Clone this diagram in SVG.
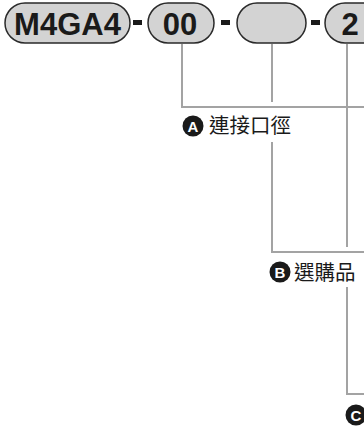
<svg xmlns="http://www.w3.org/2000/svg" width="364" height="428" viewBox="0 0 364 428">
<style>
.pill{fill:#d3d3d3;stroke:#2a2a2a;stroke-width:1.5}
.code{font-family:"Liberation Sans",Arial,sans-serif;font-weight:bold;font-size:31px;fill:#1a1a1a;text-anchor:middle}
.dash{fill:#1a1a1a}
.conn{fill:none;stroke:#a3a3a3;stroke-width:2}
.badge{fill:#1a1a1a}
.badge-t{font-family:"Liberation Sans",Arial,sans-serif;font-weight:bold;font-size:15px;fill:#fff;text-anchor:middle}
.lbl{font-family:"Noto Sans CJK TC","Noto Sans CJK SC",sans-serif;font-size:20.5px;fill:#1a1a1a}
</style>
<rect width="364" height="428" fill="#fff"/>
<g id="connectors">
<path class="conn" d="M182,44 V107 H364"/>
<path class="conn" d="M272,44 V102"/>
<path class="conn" d="M272,142 V252 H364"/>
<path class="conn" d="M347,44 V247"/>
<path class="conn" d="M347,287 V394 H364"/>
</g>
<g id="pill-model">
<rect class="pill" x="5" y="3" width="125" height="40" rx="20"/>
<text class="code" x="67.5" y="35">M4GA4</text>
</g>
<g id="dash1"><rect class="dash" x="133" y="20" width="9" height="5"/></g>
<g id="pill-port">
<rect class="pill" x="148" y="3" width="66" height="40" rx="20"/>
<text class="code" x="180" y="35">00</text>
</g>
<g id="dash2"><rect class="dash" x="221" y="20" width="9" height="5"/></g>
<g id="pill-option">
<rect class="pill" x="237" y="3" width="69" height="40" rx="20"/>
</g>
<g id="dash3"><rect class="dash" x="311" y="20" width="9" height="5"/></g>
<g id="pill-c">
<rect class="pill" x="325" y="3" width="60" height="40" rx="20"/>
<text class="code" x="350" y="35">2</text>
</g>
<g id="label-a">
<circle class="badge" cx="193" cy="126" r="10.5"/>
<text class="badge-t" x="193" y="131.5">A</text>
<text class="lbl" x="209" y="133">連接口徑</text>
</g>
<g id="label-b">
<circle class="badge" cx="280" cy="272" r="10.5"/>
<text class="badge-t" x="280" y="277.5">B</text>
<text class="lbl" x="294" y="280">選購品</text>
</g>
<g id="label-c">
<circle class="badge" cx="356" cy="415" r="10.5"/>
<text class="badge-t" x="356" y="420.5">C</text>
</g>
</svg>
